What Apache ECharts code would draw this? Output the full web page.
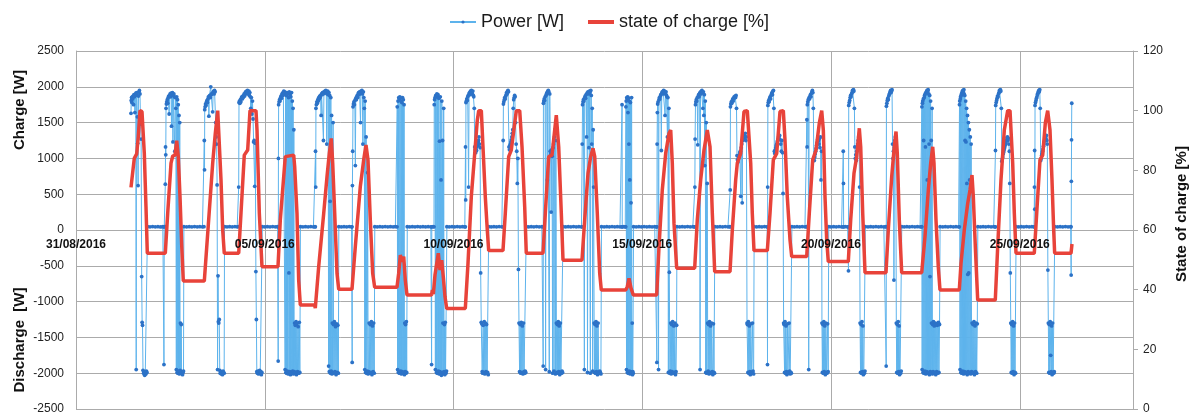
<!DOCTYPE html>
<html><head><meta charset="utf-8">
<script src="https://cdn.jsdelivr.net/npm/echarts@6/dist/echarts.min.js"></script>
<style>html,body{margin:0;padding:0;background:#fff}#c{width:1198px;height:416px}</style>
</head><body><div id="c"></div>
<script>
// x values are days since 31/08/2016 00:00
const xTickLabels = ['31/08/2016','05/09/2016','10/09/2016','15/09/2016','20/09/2016','25/09/2016'];
const yLeftTicks = [-2500,2500,500];
const yRightTicks = [0,120,20];

// Power [W], 31/08 - 05/09
const power1 = [
[1.457,1630],[1.463,1810],[1.472,1850],[1.48,1780],[1.49,1860],[1.50,1830],[1.512,1870],[1.525,1750],[1.535,1890],[1.548,1860],[1.56,1640],[1.572,1880],[1.585,1910],[1.595,-1950],[1.60,1890],[1.612,1920],[1.625,1580],[1.635,1210],[1.645,620],[1.655,1870],[1.668,1930],[1.68,1950],[1.695,1900],[1.71,1480],[1.725,1270],[1.74,-650],[1.752,-1290],[1.762,-1330],[1.775,-1960],[1.79,-2000],[1.805,-1980],[1.82,-2030],[1.835,-1990],[1.85,-2010],[1.865,-1970],[1.88,-1990],[1.895,46],
[1.96,44],[2.03,48],[2.10,45],[2.17,47],[2.24,43],[2.30,46],[2.325,45],[2.33,-1880],[2.338,46],[2.36,48],
[2.366,640],[2.372,1160],[2.378,1050],[2.385,1700],[2.395,1760],[2.405,1790],[2.418,1820],[2.43,1770],[2.442,1850],[2.455,1870],[2.468,1620],[2.48,1880],[2.493,1900],[2.505,1860],[2.518,1910],[2.53,1450],[2.543,1890],[2.555,1920],[2.568,1230],[2.58,1880],[2.593,1900],[2.605,1860],[2.618,1100],[2.63,1850],[2.645,1700],[2.658,-1950],[2.668,1860],[2.678,-1990],[2.688,1820],[2.698,-2000],[2.708,1750],[2.718,-1970],[2.728,1600],[2.738,-2010],[2.748,1500],[2.758,-1960],[2.768,-1300],[2.778,-1990],[2.788,-1320],[2.798,-2000],[2.81,-1980],[2.822,-2020],[2.835,-1990],[2.848,-1970],[2.858,46],
[2.93,45],[3.00,47],[3.07,44],[3.14,48],[3.21,45],[3.28,46],[3.35,44],[3.39,47],
[3.399,1250],[3.405,840],[3.41,1680],[3.42,1720],[3.432,1760],[3.445,1740],[3.458,1790],[3.47,1810],[3.482,1780],[3.495,1830],[3.508,1860],[3.52,1590],[3.532,1870],[3.545,1880],[3.558,1850],[3.57,2000],[3.582,1890],[3.595,1900],[3.608,1910],[3.62,1650],[3.632,1920],[3.645,1940],[3.658,1900],[3.67,1950],[3.685,1930],[3.70,1500],[3.712,1300],[3.725,1200],[3.738,630],[3.75,-1950],[3.762,-640],[3.772,-1280],[3.782,-1300],[3.795,-1250],[3.808,-1960],[3.82,-2000],[3.835,-1980],[3.85,-2010],[3.865,-1990],[3.88,-2020],[3.895,-1970],[3.91,-1990],[3.925,-2000],[3.935,46],
[4.00,45],[4.07,47],[4.14,44],[4.21,48],[4.27,45],[4.30,46],
[4.31,600],[4.318,1780],[4.33,1800],[4.342,1770],[4.355,1820],[4.368,1790],[4.38,1840],[4.393,1860],[4.405,1830],[4.418,1870],[4.43,1850],[4.443,1880],[4.455,1900],[4.468,1870],[4.48,1910],[4.493,1930],[4.505,1900],[4.518,1940],[4.53,1920],[4.543,1950],[4.555,1930],[4.568,1900],[4.58,1940],[4.593,1880],[4.605,1920],[4.618,1860],[4.63,1700],[4.645,1850],[4.66,1620],[4.675,1800],[4.69,1550],[4.705,1230],[4.72,1250],[4.735,610],[4.75,1210],[4.765,-580],[4.778,-1250],[4.79,-1980],[4.805,-2000],[4.82,-1970],[4.835,-2010],[4.85,-1990],[4.865,-1960],[4.88,-2000],[4.895,-1980],[4.91,-2020],[4.925,-1990],[4.935,46],
[5.00,45],[5.07,47],[5.14,44],[5.21,48],[5.28,45],[5.34,46]
];
// Power [W], 05/09 - 10/09
const power2 = [
[5.351,45],[5.356,-1830],[5.362,1000],[5.368,1750],[5.38,1790],[5.392,1820],[5.405,1800],[5.418,1850],[5.43,1870],[5.443,1840],[5.455,1890],[5.468,1910],[5.48,1880],[5.493,1920],[5.505,1940],[5.518,1900],[5.53,1930],[5.54,-1950],[5.55,1910],[5.56,-1990],[5.57,1880],[5.58,-2000],[5.59,1920],[5.60,-1970],[5.61,1900],[5.62,-2010],[5.63,1850],[5.64,-600],[5.65,1930],[5.66,-1980],[5.67,1890],[5.68,-2020],[5.69,1860],[5.70,-1990],[5.71,1920],[5.72,-2000],[5.73,1800],[5.74,-1970],[5.75,1700],[5.76,-2010],[5.77,1400],[5.78,-1980],[5.79,-1300],[5.80,-2000],[5.81,-1330],[5.82,-1990],[5.83,-1280],[5.84,-2020],[5.855,-1310],[5.87,-1980],[5.885,-1350],[5.90,-2000],[5.915,-1290],[5.93,-1990],[5.945,46],
[6.01,45],[6.08,47],[6.15,44],[6.22,48],[6.29,45],[6.33,46],
[6.339,45],[6.345,1100],[6.35,600],[6.356,1700],[6.368,1750],[6.38,1790],[6.393,1770],[6.405,1820],[6.418,1800],[6.43,1850],[6.443,1830],[6.455,1870],[6.468,1850],[6.48,1880],[6.493,1600],[6.505,1900],[6.518,1890],[6.53,1920],[6.543,1900],[6.555,1250],[6.568,1930],[6.58,1910],[6.593,1940],[6.605,1920],[6.618,1950],[6.63,1930],[6.643,1200],[6.655,1900],[6.668,1940],[6.68,1890],[6.692,-1900],[6.70,1920],[6.71,-1980],[6.72,1880],[6.73,400],[6.74,-2000],[6.75,1850],[6.76,-1970],[6.77,1600],[6.78,-2010],[6.79,-1300],[6.80,-1990],[6.81,1500],[6.82,-1320],[6.83,-2000],[6.845,-1280],[6.86,-1980],[6.875,-1350],[6.89,-2020],[6.905,-1310],[6.92,-1990],[6.935,-1330],[6.95,-2000],[6.962,46],
[7.03,45],[7.10,47],[7.17,44],[7.24,48],[7.30,45],
[7.311,45],[7.316,-1850],[7.322,620],[7.33,1100],[7.338,1720],[7.35,1760],[7.362,1790],[7.375,1750],[7.387,1810],[7.40,900],[7.412,1840],[7.425,1820],[7.437,1860],[7.45,1880],[7.462,1850],[7.475,1900],[7.487,1920],[7.50,1890],[7.512,1930],[7.525,1910],[7.537,1500],[7.55,1940],[7.562,1920],[7.575,1950],[7.587,1900],[7.60,1200],[7.612,1930],[7.625,1850],[7.637,1700],[7.65,-1950],[7.66,1800],[7.672,-1990],[7.685,1300],[7.70,-2000],[7.712,-1970],[7.725,800],[7.738,-2010],[7.75,-1980],[7.765,-1300],[7.78,-2000],[7.795,-1320],[7.81,-1990],[7.825,-1280],[7.84,-2020],[7.855,-1340],[7.87,-1980],[7.885,-1300],[7.90,-2000],[7.915,46],
[7.98,45],[8.05,47],[8.12,44],[8.19,48],[8.26,45],[8.33,46],[8.40,44],[8.46,47],
[8.503,45],[8.51,1720],[8.52,-1950],[8.53,1800],[8.54,-1990],[8.55,1850],[8.56,1830],[8.57,-2000],[8.58,1860],[8.59,1840],[8.60,-1970],[8.61,1800],[8.62,-2010],[8.63,1780],[8.64,-1980],[8.65,1850],[8.66,-2000],[8.67,1820],[8.68,-1990],[8.69,1750],[8.70,-2020],[8.71,-1300],[8.72,-1980],[8.73,-1320],[8.74,-2000],[8.75,-1280],[8.76,-1990],[8.775,46],
[8.84,45],[8.91,47],[8.98,44],[9.05,48],[9.12,45],[9.19,46],[9.26,44],[9.33,47],[9.40,45],[9.42,-1880],[9.425,45],[9.46,46],
[9.483,45],[9.49,1750],[9.50,1820],[9.51,1850],[9.52,-1950],[9.53,1880],[9.54,1860],[9.55,-1990],[9.56,1900],[9.57,-2000],[9.58,1870],[9.59,1890],[9.60,-1970],[9.61,1840],[9.62,-2010],[9.63,1240],[9.64,-1980],[9.65,1860],[9.66,-2000],[9.67,700],[9.68,-2030],[9.69,1800],[9.70,-1990],[9.71,1250],[9.72,-1300],[9.73,-2000],[9.74,1700],[9.75,-1980],[9.76,-1320],[9.77,-2020],[9.78,-1290],[9.79,-1990],[9.80,-2000],[9.815,-1970],[9.825,46],
[9.89,45],[9.96,47],[10.03,44],[10.10,48],[10.17,45],[10.24,46],[10.30,44]
];
// Power [W], 10/09 - 15/09
const power3 = [
[10.313,45],[10.318,1160],[10.323,420],[10.33,1780],[10.34,1800],[10.352,1830],[10.365,1810],[10.377,1860],[10.39,1880],[10.40,600],[10.412,1900],[10.425,1920],[10.437,1890],[10.45,1940],[10.462,1930],[10.475,1950],[10.487,1920],[10.50,1900],[10.512,1940],[10.525,1880],[10.537,1860],[10.55,1700],[10.562,1160],[10.575,1120],[10.587,1080],[10.60,1150],[10.612,1110],[10.625,1170],[10.637,1190],[10.65,1220],[10.662,1250],[10.675,1300],[10.69,1200],[10.705,1150],[10.72,-600],[10.735,-1290],[10.748,-1310],[10.76,-1980],[10.772,-2000],[10.785,-1330],[10.80,-1990],[10.815,-1280],[10.83,-2010],[10.845,-1300],[10.86,-1980],[10.875,-1320],[10.89,-2000],[10.905,-1990],[10.92,-2020],[10.935,46],
[11.00,45],[11.07,47],[11.14,44],[11.21,48],[11.28,45],
[11.311,45],[11.316,1250],[11.322,1760],[11.333,1790],[11.345,1820],[11.357,1850],[11.37,1830],[11.382,1870],[11.395,1890],[11.407,1920],[11.42,1900],[11.432,1940],[11.445,1950],[11.457,1930],[11.47,1160],[11.482,1120],[11.495,1180],[11.507,1200],[11.52,1230],[11.532,1260],[11.545,1300],[11.557,1350],[11.57,1400],[11.582,1700],[11.595,1820],[11.607,1850],[11.62,1880],[11.632,1860],[11.645,1500],[11.66,1200],[11.675,1100],[11.69,650],[11.705,1000],[11.72,-550],[11.735,-1300],[11.75,-1980],[11.765,-1320],[11.78,-2000],[11.795,-1290],[11.81,-1990],[11.825,-1340],[11.84,-2010],[11.855,-1300],[11.87,-1980],[11.885,-2000],[11.90,-1970],[11.915,-1990],[11.93,46],
[11.99,45],[12.06,47],[12.13,44],[12.20,48],[12.27,45],[12.34,46],
[12.371,45],[12.376,-1900],[12.382,1770],[12.392,1800],[12.403,1830],[12.415,1810],[12.427,1860],[12.44,-1950],[12.45,1880],[12.462,1900],[12.475,1920],[12.487,700],[12.50,1940],[12.512,1950],[12.525,1930],[12.537,-1980],[12.55,1900],[12.562,1100],[12.575,1060],[12.587,250],[12.60,1120],[12.612,1030],[12.625,-2000],[12.637,1150],[12.65,1200],[12.662,-1970],[12.675,1300],[12.687,1400],[12.70,-2010],[12.712,1250],[12.725,-1300],[12.737,-1990],[12.75,-1320],[12.762,-2000],[12.775,-1280],[12.787,-1980],[12.80,-1340],[12.815,-2020],[12.83,-1300],[12.845,-1990],[12.86,-2000],[12.875,-1970],[12.89,-1990],[12.905,46],
[12.97,45],[13.04,47],[13.11,44],[13.18,48],[13.25,45],[13.32,46],[13.39,44],
[13.404,45],[13.41,1200],[13.418,1750],[13.43,1790],[13.442,1820],[13.455,1800],[13.467,-1950],[13.475,1850],[13.487,1870],[13.50,1840],[13.512,1890],[13.525,1300],[13.537,1910],[13.55,-1990],[13.562,1930],[13.575,1900],[13.587,1150],[13.60,1940],[13.612,1920],[13.625,-2000],[13.637,1950],[13.65,1880],[13.662,1200],[13.675,1700],[13.687,-1970],[13.70,1400],[13.712,600],[13.725,-1300],[13.737,-1990],[13.75,-1320],[13.762,-2000],[13.775,-1280],[13.787,-1980],[13.80,-1340],[13.815,-2020],[13.83,-1300],[13.845,-1990],[13.86,-2000],[13.875,-1970],[13.89,-1990],[13.905,-2010],[13.92,46],
[13.99,45],[14.06,47],[14.13,44],[14.20,48],[14.27,45],[14.34,46],[14.41,44],[14.46,45],[14.465,1750],[14.47,45],[14.51,47],[14.55,45],
[14.562,45],[14.567,1720],[14.575,1800],[14.583,-1950],[14.59,1850],[14.598,1830],[14.606,-1990],[14.614,1860],[14.622,1640],[14.63,-2000],[14.638,1840],[14.646,1200],[14.654,-1970],[14.662,1800],[14.67,700],[14.678,-2010],[14.686,1780],[14.694,-1980],[14.702,380],[14.71,-2000],[14.718,1850],[14.726,-1990],[14.734,-1300],[14.742,-2020],[14.75,-1980],[14.76,-2000],[14.77,46],
[14.84,45],[14.91,47],[14.98,44],[15.05,48],[15.12,45],[15.19,46],[15.26,44],[15.33,47],[15.38,45]
];
// Power [W], 15/09 - 20/09
const power4 = [
[15.383,45],[15.388,-1850],[15.393,1200],[15.40,1640],[15.408,1760],[15.42,1790],[15.432,-1950],[15.442,1820],[15.455,1850],[15.467,1830],[15.48,1870],[15.492,1890],[15.505,1110],[15.517,1910],[15.53,1930],[15.542,1900],[15.555,1940],[15.567,1950],[15.58,1920],[15.592,1940],[15.605,1600],[15.617,1900],[15.63,1930],[15.642,1880],[15.655,1860],[15.667,1300],[15.68,1850],[15.692,-1990],[15.705,1700],[15.717,-590],[15.73,-2000],[15.742,-1970],[15.755,-1300],[15.767,-2010],[15.78,-1320],[15.792,-1980],[15.805,-1280],[15.82,-2000],[15.835,-1340],[15.85,-1990],[15.865,-1300],[15.88,-2020],[15.895,-1980],[15.91,-1330],[15.92,46],
[15.99,45],[16.06,47],[16.13,44],[16.20,48],[16.27,45],[16.34,46],[16.38,44],
[16.389,45],[16.394,600],[16.40,1270],[16.41,1750],[16.42,1790],[16.432,1820],[16.445,1800],[16.457,1850],[16.47,1190],[16.482,1870],[16.495,1890],[16.507,1860],[16.52,1910],[16.532,-1950],[16.545,1930],[16.557,1900],[16.57,1940],[16.582,1950],[16.595,1920],[16.607,1700],[16.62,1930],[16.632,1600],[16.645,1890],[16.657,900],[16.67,1800],[16.682,-1990],[16.695,1500],[16.707,-2000],[16.72,650],[16.732,-1300],[16.745,-1970],[16.757,-1320],[16.77,-2010],[16.782,-1280],[16.795,-1990],[16.81,-1340],[16.825,-2000],[16.84,-1300],[16.855,-1980],[16.87,-2020],[16.885,-1310],[16.90,-1990],[16.915,-2000],[16.925,46],
[16.99,45],[17.06,47],[17.13,44],[17.20,48],[17.27,45],[17.32,46],
[17.325,45],[17.33,560],[17.336,1720],[17.347,1760],[17.36,1790],[17.372,1770],[17.385,1810],[17.397,1830],[17.41,1800],[17.422,1840],[17.435,1860],[17.447,1850],[17.46,1870],[17.472,1850],[17.485,1880],[17.497,1700],[17.51,1040],[17.522,980],[17.535,950],[17.547,1000],[17.56,1020],[17.572,1050],[17.585,1080],[17.597,1100],[17.61,470],[17.622,1150],[17.635,1200],[17.647,380],[17.66,1250],[17.672,1300],[17.685,1280],[17.70,1320],[17.715,1300],[17.73,1350],[17.745,1250],[17.76,1300],[17.775,-1300],[17.787,-1320],[17.80,-1990],[17.812,-1280],[17.825,-2000],[17.837,-1340],[17.85,-1980],[17.862,-2020],[17.875,-1310],[17.89,-1990],[17.905,-2000],[17.92,-1300],[17.935,-1970],[17.95,-2010],[17.965,46],
[18.03,45],[18.10,47],[18.17,44],[18.24,48],[18.31,45],
[18.313,45],[18.318,-1880],[18.322,600],[18.328,1740],[18.337,1780],[18.35,1810],[18.362,1790],[18.375,1840],[18.387,1860],[18.40,1830],[18.412,1880],[18.425,1900],[18.437,1920],[18.45,1890],[18.462,1940],[18.475,1950],[18.487,1700],[18.50,1100],[18.512,1070],[18.525,1120],[18.537,1150],[18.55,1180],[18.562,1200],[18.575,1230],[18.587,1250],[18.60,1270],[18.612,1300],[18.625,1280],[18.64,1320],[18.655,1260],[18.67,1200],[18.685,1100],[18.70,1250],[18.715,1080],[18.73,510],[18.745,-1300],[18.757,-1320],[18.77,-1990],[18.782,-1280],[18.795,-2000],[18.807,-1340],[18.82,-1980],[18.832,-2020],[18.845,-1310],[18.86,-1990],[18.875,-2000],[18.89,-1300],[18.905,-1970],[18.92,-2010],[18.935,-1990],[18.95,-2000],[18.965,46],
[19.03,45],[19.10,47],[19.17,44],[19.24,48],[19.31,45],[19.35,46],
[19.356,45],[19.361,1540],[19.367,1160],[19.373,1750],[19.385,1790],[19.397,1820],[19.41,-1950],[19.42,1850],[19.432,1830],[19.445,1870],[19.457,1890],[19.47,1860],[19.482,1910],[19.495,1930],[19.507,1950],[19.52,1920],[19.532,1700],[19.545,1000],[19.557,970],[19.57,1020],[19.582,1060],[19.595,1100],[19.607,1140],[19.62,1180],[19.632,1220],[19.645,1260],[19.657,1300],[19.67,1250],[19.682,1200],[19.695,1280],[19.707,1150],[19.72,1300],[19.735,700],[19.75,1100],[19.76,-1300],[19.772,-1990],[19.785,-1320],[19.797,-2000],[19.81,-1280],[19.822,-1980],[19.835,-1340],[19.85,-2020],[19.865,-1300],[19.88,-1990],[19.895,-2000],[19.91,-1310],[19.925,-1980],[19.94,46],
[20.00,45],[20.07,47],[20.14,44],[20.21,48],[20.28,45],[20.32,45],[20.325,1100],[20.33,650],[20.335,45],[20.38,46],[20.44,44]
];
// Power [W], 20/09 - 27/09
const power5 = [
[20.458,45],[20.463,-570],[20.47,1740],[20.482,1780],[20.495,1810],[20.507,1850],[20.52,1880],[20.532,1860],[20.545,1900],[20.557,1920],[20.57,1950],[20.582,1930],[20.595,1960],[20.607,1940],[20.62,1700],[20.632,1160],[20.645,1000],[20.657,1050],[20.67,970],[20.682,1100],[20.695,1150],[20.707,1200],[20.72,1250],[20.732,1300],[20.745,1200],[20.757,600],[20.77,-1300],[20.782,-1990],[20.795,-1320],[20.807,-2000],[20.82,-1280],[20.832,-1980],[20.845,-1340],[20.857,-2020],[20.87,-1990],[20.885,-2000],[20.90,-1970],[20.91,46],
[20.98,45],[21.05,47],[21.12,44],[21.19,48],[21.26,45],[21.33,46],[21.40,44],[21.45,47],
[21.457,45],[21.462,-1900],[21.468,1730],[21.48,1770],[21.492,1810],[21.505,1840],[21.517,1820],[21.53,1870],[21.542,1890],[21.555,1910],[21.567,1930],[21.58,1950],[21.592,1920],[21.605,1940],[21.617,1960],[21.63,1200],[21.642,1000],[21.655,1100],[21.667,-700],[21.68,1150],[21.692,1250],[21.705,1300],[21.717,1100],[21.73,-1300],[21.742,-1990],[21.755,-1320],[21.767,-2000],[21.78,-1280],[21.792,-1980],[21.805,-1340],[21.817,-2020],[21.83,-1990],[21.845,-2000],[21.86,-1970],[21.875,46],
[21.94,45],[22.01,47],[22.08,44],[22.15,48],[22.22,45],[22.29,46],[22.36,44],[22.40,47],
[22.403,45],[22.408,1720],[22.415,-1950],[22.422,1770],[22.43,1800],[22.438,-1990],[22.446,1830],[22.454,1250],[22.462,-2000],[22.47,1850],[22.478,1880],[22.486,-1970],[22.494,1900],[22.502,1160],[22.51,-2010],[22.518,1920],[22.526,1930],[22.534,-1980],[22.542,1950],[22.55,700],[22.558,-2000],[22.566,1940],[22.574,1960],[22.582,-1990],[22.59,1900],[22.598,1200],[22.606,-2020],[22.614,1880],[22.622,-650],[22.63,-1980],[22.638,1800],[22.646,-2000],[22.654,1250],[22.662,-1300],[22.67,-1990],[22.678,1700],[22.686,-2010],[22.694,-1320],[22.705,-1980],[22.715,-1280],[22.725,-2000],[22.737,-1340],[22.75,-1990],[22.762,-1300],[22.775,-2020],[22.787,-1310],[22.80,-1980],[22.815,-1330],[22.83,-2000],[22.845,-1290],[22.86,-1990],[22.875,-1320],[22.89,46],
[22.96,45],[23.03,47],[23.10,44],[23.17,48],[23.24,45],[23.31,46],[23.38,44],
[23.399,45],[23.404,1750],[23.41,1800],[23.418,-1950],[23.425,1830],[23.432,1860],[23.44,-1990],[23.448,1880],[23.456,1900],[23.464,-2000],[23.472,1920],[23.48,1940],[23.488,-1970],[23.496,1950],[23.504,1930],[23.512,-2010],[23.52,1960],[23.528,1900],[23.536,-1980],[23.544,1880],[23.552,1250],[23.56,-2000],[23.568,1800],[23.576,1230],[23.584,-1990],[23.592,1700],[23.60,650],[23.608,-2020],[23.616,1600],[23.624,-620],[23.632,-1980],[23.64,1500],[23.648,-600],[23.656,-2000],[23.664,1400],[23.672,700],[23.68,-1990],[23.69,1300],[23.70,-2010],[23.712,1200],[23.725,-1980],[23.737,-1300],[23.75,-2000],[23.762,-1320],[23.775,-1990],[23.787,-1280],[23.80,-2020],[23.815,-1340],[23.83,-1980],[23.845,-1300],[23.86,-2000],[23.875,-1310],[23.89,46],
[23.96,45],[24.03,47],[24.10,44],[24.17,48],[24.24,45],[24.31,46],[24.35,44],
[24.352,45],[24.357,1110],[24.363,1740],[24.375,1780],[24.387,1810],[24.40,1840],[24.412,1870],[24.425,1860],[24.437,1900],[24.45,1920],[24.462,1950],[24.475,1930],[24.487,1960],[24.50,1940],[24.512,1700],[24.525,960],[24.537,990],[24.55,1020],[24.562,1060],[24.575,1090],[24.587,1120],[24.60,1150],[24.612,1180],[24.625,1200],[24.637,1230],[24.65,1260],[24.662,1290],[24.675,1300],[24.687,1250],[24.70,1280],[24.712,1200],[24.725,1100],[24.737,650],[24.75,-600],[24.762,-1300],[24.775,-1990],[24.787,-1320],[24.80,-2000],[24.812,-1280],[24.825,-1980],[24.837,-1340],[24.85,-2020],[24.862,-1300],[24.875,-1990],[24.89,-2000],[24.905,46],
[24.97,45],[25.04,47],[25.11,44],[25.18,48],[25.25,45],[25.32,46],[25.38,44],
[25.385,45],[25.39,600],[25.395,1110],[25.40,290],[25.405,1740],[25.417,1780],[25.43,1810],[25.442,1840],[25.455,1860],[25.467,1890],[25.48,1910],[25.492,1930],[25.505,1950],[25.517,1930],[25.53,1960],[25.542,1700],[25.555,970],[25.567,1000],[25.58,1040],[25.592,1070],[25.605,1100],[25.617,1130],[25.63,1170],[25.642,1200],[25.655,1240],[25.667,1270],[25.68,1300],[25.692,1280],[25.705,1320],[25.717,1250],[25.73,1200],[25.745,-560],[25.757,-1300],[25.77,-1990],[25.782,-1320],[25.795,-2000],[25.807,-1280],[25.82,-1750],[25.832,-1980],[25.845,-1340],[25.857,-2020],[25.87,-1300],[25.885,-1990],[25.90,-2000],[25.915,-1980],[25.93,46],
[26.00,45],[26.07,47],[26.14,44],[26.21,48],[26.28,45],[26.35,46],
[26.358,45],[26.362,-630],[26.367,680],[26.372,1260],[26.378,1770]
];

// State of charge [%]
const soc1 = [
[1.457,74.3],[1.502,74.8],[1.544,84.0],[1.608,85.5],[1.650,91.3],[1.695,100],[1.748,99.7],[1.809,85.8],[1.854,67.8],[1.889,52.2],[2.366,52.2],
[2.429,65.6],[2.517,82.4],[2.562,84.8],[2.623,85.1],[2.668,89.9],[2.710,84.6],[2.755,71.2],[2.80,55],[2.842,42.9],[3.399,42.9],
[3.489,58.9],[3.621,82.4],[3.690,92.4],[3.754,100],[3.801,100],[3.841,76.8],[3.886,60],[3.928,52.2],[4.310,52.2],
[4.371,65.7],[4.458,85.1],[4.548,86.8],[4.609,100],[4.768,100],[4.795,93.5],[4.856,65.7],[4.927,47.7],[5.351,47.7],
[5.412,63.4],[5.544,84.6],[5.589,85.1],[5.767,85.1],[5.793,81.2],[5.854,65.6],[5.899,43.2],[5.942,34.9],[6.320,34.9],[6.339,33.8],
[6.429,47.7],[6.562,65.6],[6.649,77.9],[6.710,85.7],[6.763,90.7],[6.800,82.4],[6.853,65.6],[6.914,45.5],[6.959,40.1],[7.311,40.1]
];
const soc2 = [
[7.399,54.4],[7.531,74.5],[7.621,83.5],[7.682,88.5],[7.735,83.5],[7.796,63.4],[7.859,45.5],[7.912,40.8],[8.503,40.8],
[8.548,45.5],[8.591,51.6],[8.636,49.4],[8.681,51.1],[8.723,43.2],[8.768,38.2],[9.42,38.2],[9.44,39.9],[9.466,38.5],
[9.51,45],[9.598,52.2],[9.642,46.6],[9.687,49.9],[9.73,44.2],[9.775,37.6],[9.82,33.7],[10.313,33.7],
[10.384,48.8],[10.472,71.2],[10.562,85.7],[10.631,96.9],[10.668,100],[10.737,100],[10.781,87.9],[10.842,71.2],[10.895,60],[10.932,53.1],[11.311,53.1],
[11.372,65.6],[11.462,84.6],[11.531,86.8],[11.621,95.8],[11.664,100],[11.754,100],[11.815,87.9],[11.886,67.8],[11.928,52.2],[12.371,52.2],
[12.432,65.6],[12.522,84.6],[12.609,85.1],[12.681,93.5],[12.723,98.5],[12.787,87.9],[12.856,65.6],[12.901,49.9],[13.404,49.9],
[13.475,63.4],[13.563,79],[13.634,84.6],[13.695,87.4],[13.741,84.6],[13.809,65.6],[13.873,45.5],[13.915,39.9],[14.562,39.9],
[14.604,41],[14.649,43.8],[14.702,40.5],[14.763,38.2],[15.383,38.2]
];
const soc3 = [
[15.444,54.4],[15.531,73.4],[15.621,85.7],[15.709,92.4],[15.754,93.5],[15.796,82.4],[15.841,62.3],[15.912,47.2],[16.389,47.2],
[16.458,63.4],[16.548,76.8],[16.636,86.8],[16.723,93.5],[16.795,87.9],[16.856,65.6],[16.919,46.0],[17.325,46.0],
[17.386,60],[17.475,76.8],[17.518,82.4],[17.608,85.7],[17.695,99.7],[17.783,100],[17.873,82.4],[17.915,65.6],[17.960,53.1],[18.313,53.1],
[18.384,65.6],[18.472,83.5],[18.562,85.7],[18.649,99.7],[18.737,100],[18.781,90.2],[18.842,71.2],[18.914,56.7],[18.959,51.1],[19.356,51.1],
[19.425,65.6],[19.515,83.5],[19.603,86.8],[19.690,95.8],[19.754,100],[19.797,93.5],[19.841,71.2],[19.886,56.7],[19.928,49.4],[20.458,49.4],
[20.522,63.4],[20.609,79],[20.681,84.6],[20.750,94.1],[20.787,87.9],[20.840,65.6],[20.901,45.7],[21.457,45.7]
];
const soc4 = [
[21.518,60],[21.608,77.9],[21.669,86.8],[21.722,93],[21.756,85.7],[21.809,63.4],[21.873,45.7],[22.403,45.7],
[22.490,57.8],[22.578,73.4],[22.641,82.4],[22.694,87.9],[22.728,82.4],[22.781,63.4],[22.842,47.7],[22.887,39.9],[23.399,39.9],
[23.444,48.8],[23.531,60],[23.621,68.9],[23.682,73.4],[23.735,78.4],[23.770,71.2],[23.823,54.4],[23.886,36.5],[24.352,36.5],
[24.416,54.4],[24.503,76.8],[24.591,93.5],[24.681,100],[24.742,100],[24.813,82.4],[24.856,65.6],[24.901,52.2],[25.385,52.2],
[25.449,65.6],[25.536,83.5],[25.608,85.1],[25.677,95.8],[25.740,100],[25.801,93.5],[25.854,76.8],[25.899,60],[25.925,52.2],[26.358,52.2],[26.384,55.3]
];

const power = power1.concat(power2, power3, power4, power5);
const soc = soc1.concat(soc2, soc3, soc4);

const FONT = '"Liberation Sans", Arial, sans-serif';
const GRID = '#ababab';
const chart = echarts.init(document.getElementById('c'), null, {renderer: 'canvas'});
chart.setOption({
  animation: false,
  textStyle: {fontFamily: FONT},
  legend: {
    left: 444, top: 8, itemWidth: 26, itemHeight: 4, itemGap: 24,
    textStyle: {fontSize: 18, color: '#1a1a1a', fontFamily: FONT},
    data: [{name: 'Power [W]'}, {name: 'state of charge [%]', icon: 'rect'}]
  },
  grid: {left: 76, right: 65, top: 51, bottom: 7, containLabel: false},
  xAxis: [
    { // grid lines only, behind the data
      type: 'value', min: 0, max: 28, interval: 5, z: 0,
      axisLine: {show: false, onZero: false},
      axisTick: {show: false},
      axisLabel: {show: false},
      splitLine: {show: true, lineStyle: {color: GRID, width: 1}}
    },
    { // date labels on the zero line, drawn above the data
      type: 'value', min: 0, max: 28, interval: 5, z: 10,
      position: 'bottom', offset: -179,
      axisLine: {show: false, onZero: false},
      axisTick: {show: false},
      splitLine: {show: false},
      axisLabel: {
        fontSize: 12, fontWeight: 'bold', color: '#111', margin: 9, fontFamily: FONT,
        formatter: v => xTickLabels[Math.round(v / 5)] || ''
      }
    }
  ],
  yAxis: [
    {
      type: 'value', min: yLeftTicks[0], max: yLeftTicks[1], interval: yLeftTicks[2],
      axisLine: {show: true, onZero: false, lineStyle: {color: GRID}},
      axisTick: {show: false},
      splitLine: {show: true, lineStyle: {color: GRID, width: 1}},
      axisLabel: {fontSize: 12, color: '#222', margin: 12, fontFamily: FONT, formatter: v => String(v)}
    },
    {
      type: 'value', position: 'right', min: yRightTicks[0], max: yRightTicks[1], interval: yRightTicks[2],
      axisLine: {show: true, onZero: false, lineStyle: {color: GRID}},
      axisTick: {show: true, length: 5, lineStyle: {color: GRID}},
      splitLine: {show: false},
      axisLabel: {fontSize: 12, color: '#222', margin: 10, fontFamily: FONT, formatter: v => String(v)}
    }
  ],
  graphic: [
    {type: 'text', x: 19.5, y: 110, rotation: Math.PI / 2,
     style: {text: 'Charge [W]', font: 'bold 15px ' + FONT, fill: '#111', align: 'center', verticalAlign: 'middle'}},
    {type: 'text', x: 19.5, y: 340, rotation: Math.PI / 2,
     style: {text: 'Discharge  [W]', font: 'bold 15px ' + FONT, fill: '#111', align: 'center', verticalAlign: 'middle'}},
    {type: 'text', x: 1182, y: 214, rotation: Math.PI / 2,
     style: {text: 'State of charge [%]', font: 'bold 15px ' + FONT, fill: '#111', align: 'center', verticalAlign: 'middle'}}
  ],
  series: [
    {
      name: 'Power [W]', type: 'line', xAxisIndex: 0, yAxisIndex: 0, data: power,
      symbol: 'circle', symbolSize: 3.8, showSymbol: true, showAllSymbol: true,
      lineStyle: {width: 1, color: '#5db3ec'},
      itemStyle: {color: '#2c72c7'},
      emphasis: {disabled: true}, z: 2
    },
    {
      name: 'state of charge [%]', type: 'line', xAxisIndex: 0, yAxisIndex: 1, data: soc,
      symbol: 'none', showSymbol: false,
      lineStyle: {width: 3.5, color: '#e8433a'},
      itemStyle: {color: '#e8433a'},
      emphasis: {disabled: true}, z: 3
    }
  ]
});
</script>
</body></html>
